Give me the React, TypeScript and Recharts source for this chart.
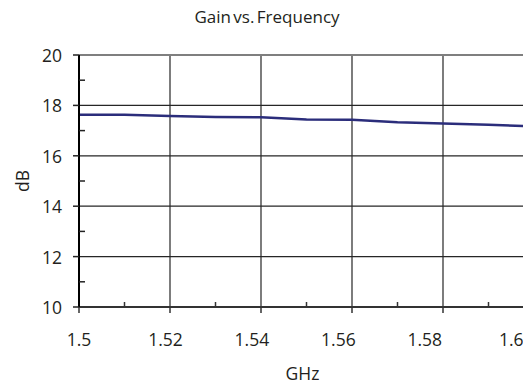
import {
  LineChart,
  Line,
  XAxis,
  YAxis,
  CartesianGrid,
  ReferenceLine,
} from 'recharts'

const freq = [1.5, 1.51, 1.52, 1.53, 1.54, 1.55, 1.56, 1.57, 1.58, 1.59, 1.6]
const gain = [17.63, 17.63, 17.58, 17.54, 17.53, 17.44, 17.43, 17.33, 17.28, 17.23, 17.17]

const xMajor = [1.5, 1.52, 1.54, 1.56, 1.58, 1.6]
const xMinor = [1.51, 1.53, 1.55, 1.57, 1.59]
const yTicks = [10, 11, 12, 13, 14, 15, 16, 17, 18, 19, 20]
const yGrid = [12, 14, 16, 18]
const xGrid = [1.52, 1.54, 1.56, 1.58, 1.6]

const data = freq.map((f, i) => ({ freq: f, gain: gain[i] }))

const FONT = '"Open Sans", sans-serif'
const TEXT = '#231f20'
const PLOT_LEFT = 71
const FS = 17.5

const XTick = ({ x, y, payload }: any) => {
  const v = payload.value
  if (!xMajor.includes(v)) {
    return <line x1={x} x2={x} y1={y} y2={y - 5} stroke="#333" strokeWidth={1.5} />
  }
  // labels in the original sit slightly left of their ticks
  const lx = PLOT_LEFT + (x - PLOT_LEFT) * 0.95
  return (
    <g>
      <line x1={x} x2={x} y1={y} y2={y + 6} stroke="#333" strokeWidth={1.5} />
      <text
        x={lx}
        y={y + 32}
        textAnchor="middle"
        dominantBaseline="central"
        fontFamily={FONT}
        fontSize={FS}
        fill={TEXT}
      >
        {String(v)}
      </text>
    </g>
  )
}

const YTick = ({ x, y, payload }: any) => {
  const v = payload.value
  if (v % 2 !== 0) {
    return <line x1={x} x2={x + 6} y1={y} y2={y} stroke="#222" strokeWidth={1.5} />
  }
  return (
    <g>
      <line x1={x - 6} x2={x} y1={y} y2={y} stroke="#222" strokeWidth={1.5} />
      <text
        x={x - 17}
        y={y}
        textAnchor="end"
        dominantBaseline="central"
        fontFamily={FONT}
        fontSize={FS}
        fill={TEXT}
      >
        {v}
      </text>
    </g>
  )
}

const XLabel = ({ viewBox }: any) => (
  <text
    x={viewBox.x + viewBox.width / 2 - 4}
    y={viewBox.y + 66}
    textAnchor="middle"
    dominantBaseline="central"
    fontFamily={FONT}
    fontSize={FS}
    fill={TEXT}
  >
    GHz
  </text>
)

const YLabel = ({ viewBox }: any) => {
  const cx = viewBox.x + 14
  const cy = viewBox.y + viewBox.height / 2
  return (
    <text
      x={cx}
      y={cy}
      transform={`rotate(-90 ${cx} ${cy})`}
      textAnchor="middle"
      dominantBaseline="central"
      fontFamily={FONT}
      fontSize={FS}
      fill={TEXT}
    >
      dB
    </text>
  )
}

export default function App() {
  return (
    <div style={{ position: 'relative', width: 523, height: 380 }}>
      <div style={{ width: 523, height: 380, overflow: 'hidden' }}>
        <LineChart
          width={530}
          height={380}
          data={data}
          margin={{ top: 47, right: 4, bottom: 0, left: 0 }}
        >
          <CartesianGrid
            horizontalValues={yGrid}
            verticalValues={xGrid}
            stroke="#262626"
            strokeWidth={1.2}
          />
          <ReferenceLine y={20} stroke="#7f7f7f" strokeWidth={2} />
          <XAxis
            dataKey="freq"
            type="number"
            domain={[1.5, 1.6]}
            ticks={[...xMajor, ...xMinor].sort((a, b) => a - b)}
            interval={0}
            height={81}
            tickSize={0}
            tickMargin={0}
            tick={(p: any) => <XTick {...p} />}
            axisLine={{ stroke: '#333', strokeWidth: 2 }}
            label={{ content: XLabel }}
          />
          <YAxis
            type="number"
            domain={[10, 20]}
            ticks={yTicks}
            interval={0}
            width={71}
            tickSize={0}
            tickMargin={0}
            tick={(p: any) => <YTick {...p} />}
            axisLine={{ stroke: '#000', strokeWidth: 2 }}
            label={{ content: YLabel }}
          />
          <Line
            type="linear"
            dataKey="gain"
            stroke="#2b2d7b"
            strokeWidth={2.5}
            dot={false}
            isAnimationActive={false}
          />
        </LineChart>
      </div>
      <div
        style={{
          position: 'absolute',
          top: -3,
          left: 0,
          width: 518,
          textAlign: 'center',
          fontFamily: FONT,
          fontSize: 17,
          lineHeight: '24px',
          wordSpacing: -2,
          color: TEXT,
        }}
      >
        Gain vs. Frequency
      </div>
    </div>
  )
}
